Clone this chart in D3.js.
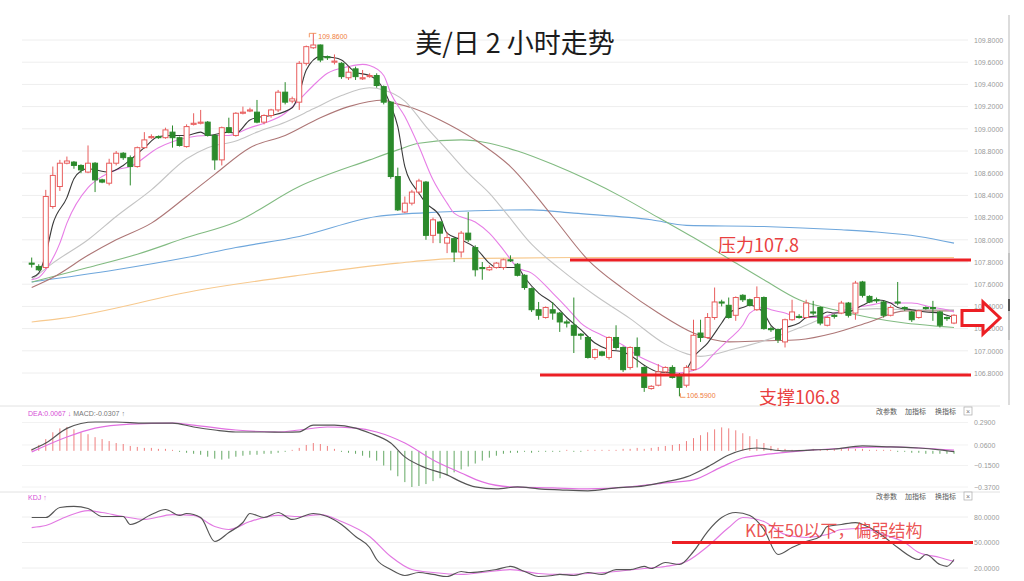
<!DOCTYPE html>
<html><head><meta charset="utf-8">
<script src="https://cdn.jsdelivr.net/npm/d3@7"></script>
<style>html,body{margin:0;padding:0;background:#fff;}svg{display:block;}</style>
</head><body><svg id="c" width="1024" height="581"></svg>
<script>
// ---------------- DATA ----------------
// candles: [open, high, low, close], one per 2-hour bar
const candles = [
[107.79,107.84,107.75,107.78],[107.76,107.78,107.72,107.73],[107.75,108.45,107.74,108.39],[108.30,108.66,108.28,108.58],
[108.48,108.72,108.44,108.69],[108.69,108.75,108.68,108.71],[108.70,108.71,108.64,108.67],[108.67,108.68,108.60,108.63],
[108.61,108.85,108.60,108.69],[108.69,108.70,108.43,108.54],[108.54,108.55,108.51,108.52],[108.51,108.73,108.49,108.69],
[108.69,108.80,108.67,108.78],[108.78,108.79,108.72,108.74],[108.74,108.76,108.49,108.66],[108.66,108.84,108.65,108.83],
[108.83,108.97,108.82,108.90],[108.92,108.95,108.91,108.93],[108.93,108.94,108.91,108.92],[108.92,109.01,108.91,108.99],
[108.97,109.03,108.83,108.92],[108.92,108.93,108.84,108.85],[108.84,109.04,108.83,109.02],[109.04,109.14,109.03,109.05],
[109.05,109.17,109.04,109.06],[109.06,109.07,108.93,108.94],[108.94,108.95,108.63,108.72],[108.72,109.02,108.67,109.01],
[109.01,109.10,108.96,108.97],[108.94,109.15,108.93,109.14],[109.14,109.20,109.13,109.15],[109.16,109.19,109.15,109.17],
[109.15,109.26,109.05,109.06],[109.06,109.13,109.04,109.12],[109.12,109.18,109.10,109.17],[109.17,109.35,109.15,109.33],
[109.33,109.42,109.22,109.24],[109.25,109.29,109.23,109.27],[109.24,109.61,109.17,109.59],[109.59,109.75,109.57,109.74],
[109.73,109.86,109.72,109.755],[109.755,109.76,109.60,109.62],[109.65,109.66,109.62,109.64],[109.60,109.67,109.58,109.61],
[109.59,109.60,109.45,109.47],[109.46,109.56,109.44,109.51],[109.54,109.56,109.44,109.47],[109.45,109.53,109.44,109.46],
[109.47,109.50,109.46,109.48],[109.48,109.50,109.37,109.39],[109.38,109.39,109.22,109.24],[109.24,109.25,108.55,108.57],
[108.57,108.65,108.26,108.27],[108.25,108.39,108.24,108.33],[108.33,108.45,108.31,108.43],[108.43,108.55,108.41,108.53],
[108.52,108.53,108.00,108.04],[108.04,108.20,107.97,108.18],[108.16,108.17,107.97,108.06],[107.97,108.07,107.88,108.02],
[108.01,108.02,107.80,107.89],[107.89,108.08,107.84,108.06],[108.06,108.25,107.98,108.00],[107.93,107.95,107.67,107.73],
[107.75,107.80,107.64,107.74],[107.73,107.77,107.72,107.75],[107.75,107.80,107.74,107.79],[107.75,107.83,107.73,107.82],
[107.82,107.86,107.80,107.81],[107.78,107.79,107.67,107.68],[107.68,107.69,107.55,107.57],[107.56,107.57,107.35,107.37],
[107.37,107.44,107.28,107.32],[107.30,107.40,107.29,107.39],[107.37,107.44,107.28,107.34],[107.34,107.35,107.17,107.26],
[107.26,107.28,107.21,107.25],[107.23,107.48,106.98,107.14],[107.15,107.16,107.10,107.14],[107.12,107.13,106.93,106.94],
[106.94,107.02,106.92,107.01],[106.99,107.00,106.95,106.96],[106.94,107.13,106.92,107.12],[107.12,107.23,107.01,107.03],
[107.03,107.04,106.81,106.83],[106.85,107.04,106.83,107.03],[107.03,107.12,106.85,106.96],[106.85,106.86,106.63,106.67],
[106.66,106.69,106.65,106.68],[106.69,106.88,106.68,106.81],[106.81,106.86,106.80,106.85],[106.85,106.87,106.75,106.76],
[106.78,106.80,106.59,106.67],[106.69,106.87,106.67,106.85],[106.83,107.28,106.82,107.14],[107.16,107.28,107.08,107.12],
[107.12,107.34,107.11,107.30],[107.30,107.57,107.28,107.44],[107.44,107.46,107.40,107.43],[107.41,107.48,107.29,107.30],
[107.32,107.49,107.27,107.48],[107.50,107.51,107.44,107.46],[107.46,107.47,107.40,107.41],[107.37,107.58,107.36,107.48],
[107.48,107.49,107.19,107.20],[107.20,107.22,107.17,107.19],[107.19,107.20,107.07,107.10],[107.08,107.29,107.03,107.28],
[107.28,107.46,107.27,107.35],[107.31,107.33,107.29,107.30],[107.30,107.46,107.29,107.43],[107.35,107.45,107.32,107.34],
[107.39,107.40,107.23,107.25],[107.23,107.31,107.22,107.30],[107.32,107.33,107.29,107.31],[107.34,107.45,107.33,107.43],
[107.43,107.44,107.30,107.32],[107.34,107.63,107.28,107.61],[107.62,107.63,107.48,107.50],[107.49,107.50,107.43,107.44],
[107.46,107.48,107.43,107.45],[107.44,107.45,107.30,107.32],[107.32,107.41,107.31,107.39],[107.44,107.62,107.41,107.43],
[107.39,107.40,107.36,107.38],[107.35,107.36,107.26,107.28],[107.30,107.37,107.29,107.36],[107.39,107.40,107.37,107.38],
[107.39,107.45,107.27,107.38],[107.35,107.36,107.21,107.23],[107.30,107.31,107.27,107.29],[107.25,107.33,107.24,107.32]
];
// moving averages as [bar index, value]
const ma5 = [[0,107.66],[1,107.70],[2,107.87],[3,108.14],[5,108.38],[6,108.55],[7,108.62],[8,108.64],[11,108.61],[13,108.67],[14,108.72],[16,108.83],[18,108.93],[20,108.94],[22,108.94],[24,108.97],[25,108.94],[28,108.97],[29,108.96],[31,109.08],[32,109.10],[34,109.12],[37,109.19],[38,109.32],[39,109.53],[41,109.65],[43,109.64],[44,109.62],[46,109.51],[48,109.48],[49,109.44],[51,109.21],[52,109.02],[53,108.66],[55,108.42],[56,108.33],[58,108.21],[59,108.06],[61,108.00],[63,107.93],[65,107.79],[66,107.75],[69,107.75],[70,107.66],[72,107.52],[74,107.43],[76,107.30],[78,107.19],[80,107.07],[82,107.01],[84,106.99],[85,106.96],[87,106.87],[89,106.81],[91,106.80],[92,106.76],[93,106.83],[94,106.94],[96,107.07],[98,107.25],[99,107.34],[101,107.39],[102,107.41],[103,107.39],[104,107.34],[105,107.23],[106,107.19],[107,107.21],[109,107.25],[110,107.30],[112,107.32],[113,107.35],[114,107.34],[116,107.35],[118,107.41],[119,107.44],[120,107.46],[122,107.43],[123,107.39],[125,107.37],[127,107.35],[129,107.34],[130,107.32],[131,107.30]];
const ma10 = [[0,107.64],[1,107.66],[2,107.73],[4,107.97],[5,108.15],[8,108.47],[10,108.57],[12,108.63],[14,108.66],[18,108.83],[22,108.92],[25,108.94],[28,108.94],[31,109.01],[33,109.05],[36,109.14],[38,109.26],[40,109.39],[42,109.50],[45,109.56],[47,109.58],[48,109.57],[50,109.48],[51,109.32],[53,109.11],[55,108.84],[57,108.54],[59,108.33],[60,108.24],[63,108.16],[65,108.06],[67,107.91],[69,107.75],[71,107.70],[74,107.52],[76,107.39],[78,107.25],[81,107.14],[84,107.05],[86,106.96],[89,106.87],[92,106.80],[93,106.81],[95,106.85],[97,106.98],[99,107.10],[101,107.23],[102,107.34],[104,107.39],[105,107.37],[107,107.34],[109,107.30],[112,107.30],[114,107.34],[117,107.39],[119,107.41],[121,107.43],[125,107.43],[128,107.39],[130,107.37],[131,107.35]];
const ma20 = [[0,107.64],[3,107.79],[8,108.00],[12,108.21],[17,108.45],[22,108.73],[25,108.83],[29,108.89],[32,108.97],[36,109.06],[40,109.18],[44,109.30],[48,109.37],[50,109.35],[53,109.25],[56,109.02],[59,108.81],[62,108.60],[65,108.42],[67,108.27],[71,107.96],[75,107.74],[80,107.50],[85,107.29],[90,107.06],[95,106.95],[100,107.02],[105,107.11],[110,107.23],[115,107.35],[120,107.38],[125,107.37],[131,107.37]];
const ma30 = [[0,107.57],[3,107.66],[8,107.86],[12,108.00],[17,108.15],[22,108.39],[26,108.59],[31,108.83],[36,108.94],[41,109.10],[45,109.20],[50,109.26],[51,109.24],[54,109.19],[58,109.08],[63,108.90],[68,108.66],[74,108.21],[79,107.82],[84,107.56],[89,107.34],[94,107.16],[99,107.08],[104,107.09],[109,107.10],[114,107.16],[119,107.26],[124,107.36],[129,107.36],[131,107.36]];
const ma60 = [[0,107.62],[8,107.75],[15,107.87],[22,108.02],[29,108.16],[38,108.48],[48,108.72],[52,108.81],[55,108.87],[61,108.90],[65,108.87],[69,108.80],[74,108.68],[79,108.54],[84,108.38],[89,108.20],[94,108.02],[99,107.83],[104,107.64],[109,107.46],[114,107.37],[119,107.30],[124,107.25],[129,107.22],[131,107.21]];
const ma120 = [[0,107.62],[12,107.73],[22,107.84],[29,107.93],[38,108.03],[49,108.21],[58,108.25],[71,108.27],[77,108.24],[88,108.18],[93,108.13],[104,108.12],[115,108.09],[120,108.07],[126,108.03],[131,107.97]];
const ma250 = [[0,107.26],[4,107.29],[24,107.55],[38,107.68],[52,107.79],[60,107.83],[77,107.84],[100,107.84],[131,107.84]];
const priceTicks = [109.8,109.6,109.4,109.2,109.0,108.8,108.6,108.4,108.2,108.0,107.8,107.6,107.4,107.2,107.0,106.8];
const resistance = 107.8, support = 106.8;
const highMark = {i:40, v:109.86}, lowMark = {i:92, v:106.59};
// MACD
const macdDif = [[0,0.01],[2,0.08],[5,0.23],[7,0.28],[9,0.295],[12,0.295],[16,0.284],[20,0.284],[23,0.244],[26,0.213],[29,0.193],[33,0.193],[36,0.19],[38,0.195],[40,0.264],[43,0.264],[46,0.233],[48,0.182],[51,0.08],[53,-0.062],[56,-0.175],[59,-0.246],[61,-0.318],[63,-0.369],[66,-0.389],[69,-0.369],[72,-0.389],[75,-0.399],[79,-0.409],[83,-0.379],[87,-0.358],[90,-0.318],[93,-0.267],[96,-0.164],[99,-0.042],[101,0.009],[103,0.029],[107,-0.001],[111,0.009],[114,0.019],[118,0.05],[122,0.04],[126,0.029],[129,0.009],[131,-0.009]];
const macdDea = [[0,-0.011],[5,0.142],[9,0.233],[14,0.274],[20,0.284],[23,0.264],[29,0.213],[35,0.193],[38,0.213],[42,0.244],[46,0.233],[49,0.193],[53,0.08],[57,-0.093],[61,-0.226],[64,-0.318],[68,-0.369],[74,-0.379],[79,-0.389],[85,-0.369],[90,-0.328],[94,-0.297],[98,-0.164],[101,-0.073],[105,-0.032],[111,0.009],[116,0.029],[122,0.04],[126,0.029],[131,0.0067]];
const macdHist = [0.02,0.06,0.12,0.19,0.23,0.245,0.22,0.19,0.17,0.14,0.12,0.10,0.08,0.07,0.05,0.04,0.03,0.03,0.02,0.02,0.01,-0.01,-0.02,-0.03,-0.04,-0.06,-0.08,-0.09,-0.08,-0.06,-0.05,-0.04,-0.04,-0.03,-0.03,-0.02,-0.01,0.01,0.03,0.06,0.08,0.07,0.05,0.02,-0.01,-0.02,-0.03,-0.05,-0.07,-0.10,-0.15,-0.20,-0.26,-0.32,-0.37,-0.36,-0.34,-0.31,-0.28,-0.25,-0.22,-0.19,-0.16,-0.13,-0.10,-0.07,-0.05,-0.03,-0.02,-0.02,-0.01,-0.02,-0.01,-0.01,-0.01,-0.01,0.01,-0.01,-0.01,0.01,0.01,0.01,0.01,0.01,0.02,0.02,0.03,0.02,0.03,0.04,0.05,0.06,0.07,0.10,0.13,0.16,0.19,0.22,0.24,0.23,0.21,0.18,0.15,0.12,0.08,0.05,0.03,0.02,0.01,0.01,0.01,0.02,0.01,0.02,0.02,0.02,0.03,0.02,0.02,0.01,0.01,0.01,0.01,-0.01,-0.01,-0.02,-0.02,-0.03,-0.03,-0.03,-0.03,-0.0307];
const macdTicks = [0.29,0.06,-0.15,-0.37];
// KD
const kLine = [[0,79.4],[2,79.4],[4,91.2],[6,92.4],[8,90],[10,80.6],[13,80.6],[14,71.2],[17,82.9],[19,88.8],[21,81.8],[22,84.1],[24,79.4],[26,51.2],[28,61.8],[30,73.5],[31,84.1],[33,79.4],[35,85.3],[37,77.1],[40,84.1],[42,80.6],[44,71.2],[46,57.1],[48,44.1],[49,30],[51,18.2],[53,11.2],[55,14.7],[57,12.4],[59,10],[61,15.9],[62,14.7],[64,15.9],[66,18.2],[68,21.8],[70,15.9],[72,10],[74,11.2],[75,12.4],[77,11.2],[79,14.7],[81,12.4],[83,18.2],[85,18.2],[87,21.8],[88,19.4],[90,26.5],[92,24.1],[94,39.4],[96,62.9],[98,79.4],[100,85.3],[102,81.8],[104,65.3],[106,35.9],[108,44.1],[110,51.2],[112,57.1],[113,68.8],[115,71.2],[117,73.5],[119,67.6],[121,57.1],[123,44.1],[126,30],[127,35.9],[129,24.1],[130,22],[131,30]];
const dLine = [[0,67.6],[2,70],[5,80.6],[8,87.6],[10,85.3],[13,80.6],[16,77.1],[20,82.9],[23,81.8],[26,68.8],[28,65.3],[31,74.7],[35,81.8],[38,80.6],[41,82.9],[44,74.7],[48,57.1],[51,33.5],[54,18.2],[57,14.7],[61,12.4],[64,14.7],[68,18.2],[72,13.5],[75,12.4],[79,13.5],[83,15.9],[87,19.4],[90,21.8],[93,27.6],[96,45.3],[99,67.6],[101,79.4],[104,74.7],[107,59.4],[110,55.9],[113,59.4],[115,65.3],[118,66.5],[121,59.4],[124,50],[126,38.2],[129,32.4],[131,27.6]];
const kdTicks = [80,50,20];
const kdLevel = 50;

// ---------------- DRAW ----------------
const svg = d3.select('#c');
svg.append('rect').attr('width',1024).attr('height',581).attr('fill','#fff');
const FONT = '"Liberation Sans", Arial, sans-serif';
const CJK = '"Noto Sans CJK SC", sans-serif';

const x = d3.scaleLinear().domain([0, candles.length-1]).range([31.7, 954]);
const y = d3.scaleLinear().domain([106.8,109.8]).range([373,40]);
const yM = d3.scaleLinear().domain([-0.37,0.29]).range([487,422.5]);
const yK = d3.scaleLinear().domain([20,80]).range([568,517]);

// grid
svg.append('g').selectAll('line').data(priceTicks).join('line')
  .attr('x1',22).attr('x2',968).attr('y1',d=>y(d)).attr('y2',d=>y(d))
  .attr('stroke','#eeeeee').attr('stroke-width',1);
svg.append('g').selectAll('line').data(kdTicks).join('line')
  .attr('x1',22).attr('x2',968).attr('y1',d=>yK(d)).attr('y2',d=>yK(d))
  .attr('stroke','#eeeeee');
svg.append('g').selectAll('line').data(macdTicks).join('line')
  .attr('x1',22).attr('x2',968).attr('y1',d=>yM(d)).attr('y2',d=>yM(d))
  .attr('stroke','#f2f2f2');
// panel separators
[406,492].forEach(v=>svg.append('line').attr('x1',0).attr('x2',1000).attr('y1',v).attr('y2',v).attr('stroke','#e2e2e2'));
// scrollbar
svg.append('line').attr('x1',1009).attr('x2',1009).attr('y1',15).attr('y2',405).attr('stroke','#dcdcdc').attr('stroke-width',2);
svg.append('line').attr('x1',1009).attr('x2',1009).attr('y1',253).attr('y2',340).attr('stroke','#c4c4c4').attr('stroke-width',2);
svg.append('line').attr('x1',1009).attr('x2',1009).attr('y1',299).attr('y2',311).attr('stroke','#555').attr('stroke-width',2);

// axes
function rightAxis(scale, ticks, fmt){
  const g = svg.append('g').attr('transform','translate(972,0)')
    .call(d3.axisRight(scale).tickValues(ticks).tickFormat(fmt).tickSize(0).tickPadding(2));
  g.select('.domain').remove();
  g.selectAll('text').attr('fill','#9a9a9a').style('font-size','7px').style('font-family',FONT);
}
rightAxis(y, priceTicks, d3.format('.4f'));
rightAxis(yM, macdTicks, d3.format('.4f'));
rightAxis(yK, kdTicks, d3.format('.4f'));

// moving averages
const line = (sc)=>d3.line().x(d=>x(d[0])).y(d=>sc(d[1])).curve(d3.curveMonotoneX);
const maDefs = [[ma250,'#f7c98e'],[ma120,'#6fa7dc'],[ma60,'#82bb82'],[ma30,'#ad7676'],[ma20,'#c4c4c4'],[ma10,'#e77ee6'],[ma5,'#3a3a3a']];
maDefs.forEach(([d,c])=>svg.append('path').datum(d).attr('d',line(y)).attr('fill','none').attr('stroke',c).attr('stroke-width',1.1));

// candles
const UP='#e85d5d', DN='#2b8a2b';
const cg = svg.append('g');
cg.selectAll('line').data(candles).join('line')
  .attr('x1',(d,i)=>x(i)).attr('x2',(d,i)=>x(i))
  .attr('y1',d=>y(d[1])).attr('y2',d=>y(d[2]))
  .attr('stroke',d=>d[3]>=d[0]?UP:DN).attr('stroke-width',1);
cg.selectAll('rect').data(candles).join('rect')
  .attr('x',(d,i)=>x(i)-2.5).attr('width',5)
  .attr('y',d=>Math.min(y(d[0]),y(d[3])))
  .attr('height',d=>Math.max(1,Math.abs(y(d[0])-y(d[3]))))
  .attr('fill',d=>d[3]>=d[0]?'#fff':DN)
  .attr('stroke',d=>d[3]>=d[0]?UP:DN).attr('stroke-width',1);

// high / low marks
const MK='#ef7d3c';
{
  const hx=x(highMark.i), hy=y(highMark.v);
  svg.append('path').attr('d',`M${hx-4},${hy+4}L${hx-4},${hy}L${hx+3},${hy}`).attr('fill','none').attr('stroke',MK).attr('stroke-width',0.8);
  svg.append('text').attr('x',hx+5).attr('y',hy+6).text(d3.format('.4f')(highMark.v)).attr('fill',MK).style('font-size','7px').style('font-family',FONT);
  const lx=x(lowMark.i), ly=y(lowMark.v);
  svg.append('path').attr('d',`M${lx+1},${ly-3}L${lx+1},${ly+1}L${lx+6},${ly+1}`).attr('fill','none').attr('stroke',MK).attr('stroke-width',0.8);
  svg.append('text').attr('x',lx+7).attr('y',ly+2).text(d3.format('.4f')(lowMark.v)).attr('fill',MK).style('font-size','7px').style('font-family',FONT);
}

// resistance / support
const RED='#ec1f24';
svg.append('line').attr('x1',570).attr('x2',971).attr('y1',y(resistance)-2).attr('y2',y(resistance)-2).attr('stroke',RED).attr('stroke-width',3);
svg.append('line').attr('x1',540).attr('x2',971).attr('y1',y(support)+2).attr('y2',y(support)+2).attr('stroke',RED).attr('stroke-width',3);
svg.append('text').attr('x',718).attr('y',252).text('压力'+resistance).attr('fill','#e94040').style('font-size','18px').style('font-family',CJK);
svg.append('text').attr('x',759).attr('y',404).text('支撑'+support).attr('fill','#e94040').style('font-size','18px').style('font-family',CJK);

// arrow
svg.append('path').attr('d','M962,310.5H983V302L1000,318L983,334V325.5H962Z').attr('fill','#fff').attr('stroke',RED).attr('stroke-width',3).attr('stroke-linejoin','miter');

// title
svg.append('text').attr('x',515).attr('y',53).attr('text-anchor','middle').text('美/日 2 小时走势')
  .attr('fill','#1c1c1c').style('font-size','27px').style('font-family',CJK);

// MACD panel
const zero = yM(0);
svg.append('g').selectAll('line').data(macdHist).join('line')
  .attr('x1',(d,i)=>x(i)).attr('x2',(d,i)=>x(i)).attr('y1',zero).attr('y2',d=>yM(d))
  .attr('stroke',d=>d>=0?'#ef7f7f':'#63a863').attr('stroke-width',1);
svg.append('path').datum(macdDea).attr('d',line(yM)).attr('fill','none').attr('stroke','#e170e1').attr('stroke-width',1.2);
svg.append('path').datum(macdDif).attr('d',line(yM)).attr('fill','none').attr('stroke','#555').attr('stroke-width',1.2);
{
  const t = svg.append('text').attr('x',28).attr('y',416).style('font-size','7px').style('font-family',FONT);
  t.append('tspan').text('DEA:0.0067 ↓').attr('fill','#d64fd6');
  t.append('tspan').text('  MACD:-0.0307 ↑').attr('fill','#777');
}
// KD panel
svg.append('path').datum(dLine).attr('d',line(yK)).attr('fill','none').attr('stroke','#e27ae2').attr('stroke-width',1.2);
svg.append('path').datum(kLine).attr('d',line(yK)).attr('fill','none').attr('stroke','#555').attr('stroke-width',1.2);
svg.append('line').attr('x1',672).attr('x2',973).attr('y1',yK(kdLevel)).attr('y2',yK(kdLevel)).attr('stroke',RED).attr('stroke-width',3);
svg.append('text').attr('x',745).attr('y',537).text('KD在50以下，偏弱结构').attr('fill','#e94040').attr('fill-opacity',0.9).style('font-size','17px').style('font-family',CJK);
svg.append('text').attr('x',28).attr('y',500).text('KDJ ↑').attr('fill','#d64fd6').style('font-size','7px').style('font-family',FONT);

// panel tool buttons
[414,499].forEach(yy=>{
  [['改参数',876],['加指标',905],['换指标',935]].forEach(([t,xx])=>svg.append('text').attr('x',xx).attr('y',yy).text(t).attr('fill','#555').style('font-size','7px').style('font-family',CJK));
  svg.append('rect').attr('x',964).attr('y',yy-7).attr('width',8).attr('height',8).attr('fill','#fff').attr('stroke','#aaa').attr('stroke-width',0.7);
  svg.append('text').attr('x',968).attr('y',yy-0.5).attr('text-anchor','middle').text('×').attr('fill','#777').style('font-size','7px').style('font-family',FONT);
});
</script></body></html>
